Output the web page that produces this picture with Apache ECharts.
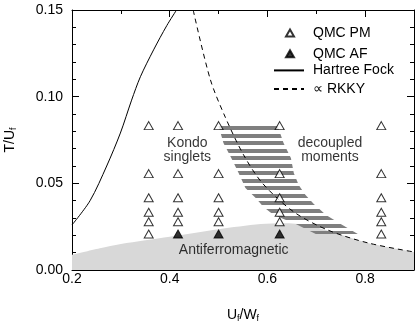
<!DOCTYPE html>
<html>
<head>
<meta charset="utf-8">
<script src="https://cdn.jsdelivr.net/npm/echarts@6/dist/echarts.min.js"></script>
<style>
html,body{margin:0;padding:0;background:#fff;}
#chart{width:415px;height:321px;}
</style>
</head>
<body>
<div id="chart"></div>
<script>
const FONT = '"Liberation Sans", Arial, Helvetica, sans-serif';
const TICK = '#000';

// QMC runs, [U_f/W_f, T/U_f]
const qmcPM = [
  [0.357,0.0833],[0.357,0.0556],[0.357,0.0417],[0.357,0.0333],[0.357,0.0278],[0.357,0.0208],
  [0.417,0.0833],[0.417,0.0556],[0.417,0.0417],[0.417,0.0333],[0.417,0.0278],
  [0.5,0.0833],[0.5,0.0556],[0.5,0.0417],[0.5,0.0333],[0.5,0.0278],
  [0.625,0.0833],[0.625,0.0556],[0.625,0.0417],[0.625,0.0333],[0.625,0.0278],
  [0.833,0.0833],[0.833,0.0556],[0.833,0.0417],[0.833,0.0333],[0.833,0.0278],[0.833,0.0208]
];
const qmcAF = [[0.417,0.0208],[0.5,0.0208],[0.625,0.0208]];

// curves
const hartreeFock = [[0.2,0.026],[0.237,0.040],[0.271,0.060],[0.299,0.079],[0.322,0.098],
  [0.340,0.1115],[0.367,0.127],[0.394,0.141],[0.414,0.150]];
const rkky = [[0.448,0.150],[0.483,0.110],[0.514,0.088],[0.551,0.0665],[0.59,0.050],
  [0.654,0.0335],[0.724,0.023],[0.806,0.0156],[0.9,0.0104]];
const afBoundary = [[0.2,0.0087],[0.257,0.0125],[0.3,0.015],[0.4,0.0192],[0.5,0.0235],
  [0.586,0.0265],[0.633,0.027],[0.68,0.026],[0.74,0.0214],[0.806,0.0156],[0.9,0.0104]];

// hatched crossover band, edges from top to bottom
const hatchLeft = [[0.500,0.0831],[0.510,0.0733],[0.526,0.0646],[0.541,0.0560],[0.555,0.0473],
  [0.576,0.0415],[0.592,0.0364],[0.613,0.0317],[0.658,0.0265],[0.699,0.0207]];
const hatchRight = [[0.621,0.0831],[0.633,0.0733],[0.648,0.0646],[0.654,0.0560],[0.664,0.0490],
  [0.678,0.0433],[0.695,0.0381],[0.720,0.0317],[0.750,0.0265],[0.785,0.0207]];

const regionNames = ['Kondo\nsinglets', 'decoupled\nmoments', 'Antiferromagnetic'];
const regionPos = [[0.436,0.069],[0.728,0.069],[0.531,0.0115]];

const xMin = 0.2, xMax = 0.9, yMin = 0, yMax = 0.15;

// stripe texture for the band
const stripe = document.createElement('canvas');
stripe.width = 4; stripe.height = 15;
const sctx = stripe.getContext('2d');
sctx.fillStyle = '#7f7f7f';
sctx.fillRect(0, 0, 4, 4);
sctx.fillRect(0, 8, 4, 4);

function xAx(pos, interval, len, withLine, withLabel) {
  return {
    type: 'value', position: pos, min: xMin, max: xMax, interval: interval,
    axisLine: {show: withLine, onZero: false, lineStyle: {color: '#000', width: 1}},
    axisTick: {show: true, inside: true, length: len, lineStyle: {color: TICK, width: 1}},
    axisLabel: {show: withLabel, margin: 2, color: '#000', fontSize: 14, fontFamily: FONT,
      showMaxLabel: false, formatter: v => v.toFixed(1)},
    splitLine: {show: false}
  };
}
function yAx(pos, withLabel) {
  return {
    type: 'value', position: pos, min: yMin, max: yMax, interval: 0.05,
    axisLine: {show: true, onZero: false, lineStyle: {color: '#000', width: 1}},
    axisTick: {show: true, inside: true, length: 7, lineStyle: {color: TICK, width: 1}},
    minorTick: {show: true, splitNumber: 5, length: 4, lineStyle: {color: TICK, width: 1}},
    axisLabel: {show: withLabel, margin: 9, color: '#000', fontSize: 14, fontFamily: FONT,
      formatter: v => v.toFixed(2)},
    splitLine: {show: false}
  };
}

const nameStyle = {color: '#000', rich: {
  m: {fontSize: 14, fontFamily: FONT, color: '#000', lineHeight: 16},
  s: {fontSize: 9, fontFamily: FONT, color: '#000', lineHeight: 8, verticalAlign: 'bottom'}
}};
const xMain = xAx('bottom', 0.2, 7, true, true);
xMain.name = '{m|U}{s|f}{m|/W}{s|f}';
xMain.nameLocation = 'middle';
xMain.nameGap = 37;
xMain.nameTextStyle = nameStyle;
const yMain = yAx('left', true);
yMain.name = '{m|T/U}{s|f}';
yMain.nameLocation = 'middle';
yMain.nameGap = 54;
yMain.nameTextStyle = nameStyle;

const legendText = {fontSize: 14, fontFamily: FONT, color: '#000', lineHeight: 14};

const chart = echarts.init(document.getElementById('chart'), null, {renderer: 'canvas'});
chart.setOption({
  animation: false,
  backgroundColor: '#fff',
  grid: {left: 72, right: 1, top: 10, bottom: 51, containLabel: false, outerBoundsMode: 'none'},
  xAxis: [xMain, xAx('bottom', 0.1, 4, false, false), xAx('top', 0.2, 7, true, false), xAx('top', 0.1, 4, false, false)],
  yAxis: [yMain, yAx('right', false)],
  legend: [
    {
      orient: 'vertical', left: 285, top: 26, padding: 0,
      itemWidth: 8, itemHeight: 7, itemGap: 6.7, selectedMode: false,
      data: ['QMC PM', 'QMC AF'],
      textStyle: Object.assign({padding: [0, 0, 0, 14]}, legendText)
    },
    {
      orient: 'vertical', left: 273, top: 63.4, padding: 0,
      itemWidth: 30, itemHeight: 9, itemGap: 4.7, selectedMode: false,
      data: [
        {name: 'Hartree Fock', itemStyle: {opacity: 0}},
        {name: '\u221d RKKY', itemStyle: {opacity: 0}}
      ],
      textStyle: Object.assign({padding: [0, 0, 0, 4]}, legendText)
    }
  ],
  series: [
    {
      type: 'line', name: 'af', data: afBoundary, smooth: 0.3, symbol: 'none', silent: true,
      lineStyle: {width: 0, opacity: 0},
      areaStyle: {color: '#d8d8d8', opacity: 1}, z: 1
    },
    {
      type: 'custom', name: 'band', data: [0], silent: true, z: 2,
      renderItem: (params, api) => {
        const pts = hatchLeft.concat(hatchRight.slice().reverse()).map(p => api.coord(p));
        return {
          type: 'polygon', shape: {points: pts},
          style: {fill: {image: stripe, repeat: 'repeat', x: 0, y: Math.round(pts[0][1])}, stroke: null}
        };
      }
    },
    {
      type: 'line', name: 'Hartree Fock', data: hartreeFock, smooth: 0.3, symbol: 'none',
      lineStyle: {color: '#000', width: 1}, itemStyle: {color: '#000'}, z: 3
    },
    {
      type: 'line', name: '\u221d RKKY', data: rkky, smooth: 0.3, symbol: 'none',
      lineStyle: {color: '#000', width: 1, type: [5, 4]}, itemStyle: {color: '#000'}, z: 3
    },
    {
      type: 'scatter', name: 'QMC PM', data: qmcPM, symbol: 'triangle', symbolSize: [9, 8],
      itemStyle: {color: '#fff', borderColor: '#000', borderWidth: 1}, z: 4
    },
    {
      type: 'scatter', name: 'QMC AF', data: qmcAF, symbol: 'triangle', symbolSize: [9, 8],
      itemStyle: {color: '#000', borderColor: '#000', borderWidth: 1}, z: 4
    },
    {
      type: 'scatter', name: 'regions', silent: true, symbolSize: 1,
      itemStyle: {color: 'transparent'},
      data: regionPos.map((p, i) => ({value: p, name: regionNames[i]})),
      label: {show: true, position: 'inside', formatter: '{b}', color: '#000',
        fontSize: 14, fontFamily: FONT, lineHeight: 14, align: 'center'},
      z: 5
    }
  ]
});
</script>
</body>
</html>
